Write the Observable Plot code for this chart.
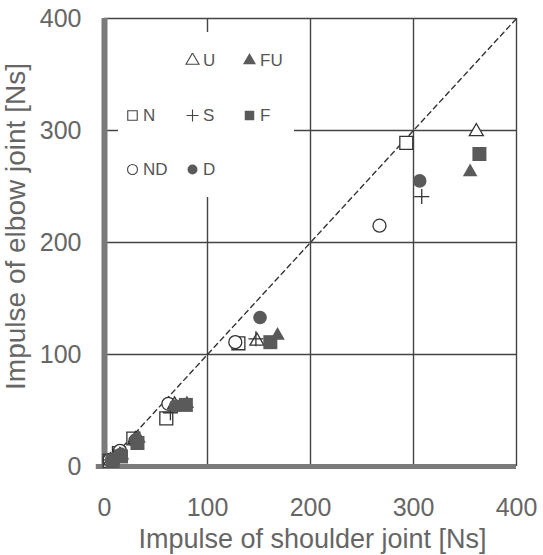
<!DOCTYPE html>
<html><head><meta charset="utf-8">
<script src="https://cdn.jsdelivr.net/npm/d3@7"></script>
<script src="https://cdn.jsdelivr.net/npm/@observablehq/plot@0.6"></script>
<style>
body{margin:0;background:#fff;font-family:"Liberation Sans",Arial,sans-serif}
#wrap{position:relative;width:543px;height:555px}
#legend{position:absolute;left:118px;top:32px;width:176px;height:165px;background:#fff}
.item{position:absolute;display:flex;align-items:center;font-size:17px;color:#555;line-height:1;white-space:nowrap}
.item svg{margin-right:3px}
</style></head><body><div id="wrap"></div>
<script>
// Impulse of shoulder joint (x) and elbow joint (y), in Ns, per condition
const xN  = [5, 14, 28, 60, 130, 293];
const yN  = [5, 12, 25, 43, 110, 289];
const xU  = [6, 15, 30, 68, 148, 361];
const yU  = [5, 10, 24, 55, 112, 299];
const xFU = [8, 17, 33, 80, 168, 355];
const yFU = [6, 10, 25, 56, 117, 263];
const xS  = [6, 15, 30, 64, 147, 308];
const yS  = [6, 10, 22, 48, 114, 241];
const xF  = [8, 16, 32, 79, 161, 364];
const yF  = [5, 9, 21, 55, 111, 279];
const xND = [5, 15, 30, 62, 127, 267];
const yND = [6, 14, 23, 56, 111, 215];
const xD  = [7, 16, 31, 69, 151, 306];
const yD  = [6, 11, 24, 54, 133, 255];

const ticks = [0, 100, 200, 300, 400];
const gridValues = [100, 200, 300, 400];
const diagonal = [0, 400];

const xLabel = "Impulse of shoulder joint [Ns]";
const yLabel = "Impulse of elbow joint [Ns]";

const rows = (xs, ys) => xs.map((x, i) => ({x, y: ys[i]}));
const dataN = rows(xN, yN), dataU = rows(xU, yU), dataFU = rows(xFU, yFU),
      dataS = rows(xS, yS), dataF = rows(xF, yF), dataND = rows(xND, yND), dataD = rows(xD, yD);

const openStyle = {fill: "white", stroke: "#333", strokeWidth: 1.3};
const fillColor = "#5a5a5a";
const textColor = "#666";

const chart = Plot.plot({
  width: 543, height: 555,
  marginLeft: 104, marginRight: 27, marginTop: 18, marginBottom: 89,
  style: {fontFamily: "'Liberation Sans', Arial, sans-serif", fontSize: "25px", color: textColor, background: "white"},
  x: {domain: [0, 400]},
  y: {domain: [0, 400]},
  marks: [
    Plot.ruleX(gridValues, {stroke: "#444", strokeWidth: 1.4}),
    Plot.ruleY(gridValues, {stroke: "#444", strokeWidth: 1.4}),
    Plot.line(diagonal, {x: d => d, y: d => d, stroke: "#333", strokeWidth: 1.4, strokeDasharray: "5,4"}),
    Plot.ruleX([0], {stroke: "#7a7a7a", strokeWidth: 6}),
    Plot.ruleY([0], {stroke: "#7a7a7a", strokeWidth: 5, x1: -8, x2: 400}),
    Plot.axisX({ticks, tickSize: 0, tickPadding: 32, fontSize: 25, label: null}),
    Plot.axisY({ticks, tickSize: 0, tickPadding: 23, fontSize: 25, label: null}),
    Plot.text([xLabel], {frameAnchor: "bottom", text: d => d, dx: 2, dy: 73, fontSize: 27,
      textAnchor: "middle", lineAnchor: "middle", fill: textColor, ariaLabel: "xlabel"}),
    Plot.text([yLabel], {frameAnchor: "left", text: d => d, rotate: -90, dx: -88, dy: -16, fontSize: 28,
      textAnchor: "middle", lineAnchor: "middle", fill: textColor, ariaLabel: "ylabel"}),
    Plot.dot(dataN, {x: "x", y: "y", symbol: "square", r: 7.3, ...openStyle}),
    Plot.dot(dataND, {x: "x", y: "y", symbol: "circle", r: 6.5, ...openStyle}),
    Plot.dot(dataU, {x: "x", y: "y", symbol: "triangle", r: 5.2, ...openStyle}),
    Plot.dot(dataS, {x: "x", y: "y", symbol: "plus", r: 4.9, fill: "none", stroke: "#333", strokeWidth: 1.3}),
    Plot.dot(dataD, {x: "x", y: "y", symbol: "circle", r: 6.8, fill: fillColor, stroke: "none"}),
    Plot.dot(dataF, {x: "x", y: "y", symbol: "square", r: 7.9, fill: fillColor, stroke: "none"}),
    Plot.dot(dataFU, {x: "x", y: "y", symbol: "triangle", r: 5.4, fill: fillColor, stroke: "none"})
  ]
});
// letter spacing so the axis titles span the same length as in the reference
chart.querySelectorAll("g[aria-label='xlabel'] text").forEach(t => t.style.letterSpacing = "-0.5px");
chart.querySelectorAll("g[aria-label='ylabel'] text").forEach(t => t.style.letterSpacing = "1px");

const wrap = document.getElementById("wrap");
wrap.appendChild(chart);

// Legend (inside the plot area, on a white box)
const legendItems = [
  {label: "U",  symbol: d3.symbolTriangle, size: 73, filled: false, left: 67, top: 29},
  {label: "FU", symbol: d3.symbolTriangle, size: 73, filled: true,  left: 124, top: 29},
  {label: "N",  symbol: d3.symbolSquare,   size: 90, filled: false, left: 7,  top: 84},
  {label: "S",  symbol: d3.symbolPlus,     size: 49, filled: false, left: 67, top: 84},
  {label: "F",  symbol: d3.symbolSquare,   size: 90, filled: true,  left: 124, top: 84},
  {label: "ND", symbol: d3.symbolCircle,   size: 78, filled: false, left: 7,  top: 138},
  {label: "D",  symbol: d3.symbolCircle,   size: 78, filled: true,  left: 67, top: 138}
];
const legend = document.createElement("div");
legend.id = "legend";
for (const it of legendItems) {
  const el = document.createElement("div");
  el.className = "item";
  el.style.left = it.left + "px";
  el.style.top = (it.top - 9) + "px";
  const path = d3.symbol(it.symbol, it.size)();
  const fill = it.filled ? fillColor : "none";
  const stroke = it.filled ? "none" : "#444";
  el.innerHTML = `<svg width="15" height="15" viewBox="-7.5 -7.5 15 15"><path d="${path}" fill="${fill}" stroke="${stroke}" stroke-width="1.1"/></svg><span>${it.label}</span>`;
  legend.appendChild(el);
}
wrap.appendChild(legend);
</script>
</body></html>
